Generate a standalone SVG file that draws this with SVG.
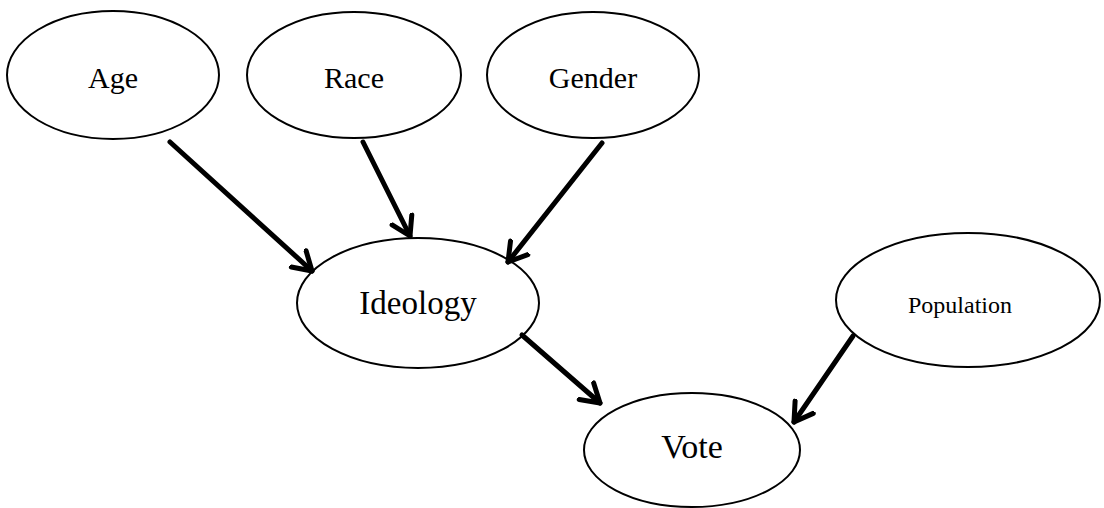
<svg xmlns="http://www.w3.org/2000/svg" width="1104" height="508" viewBox="0 0 1104 508">
<style>
.n{fill:#fff;stroke:#000;stroke-width:2}
.t{font-family:"Liberation Serif","DejaVu Serif",serif;font-size:30px;text-anchor:middle;fill:#000}
.c{stroke:#000;stroke-width:5;stroke-linecap:round;fill:none;marker-end:url(#ah)}
</style>
<defs>
<marker id="ah" markerUnits="userSpaceOnUse" markerWidth="40" markerHeight="40" refX="20" refY="20" orient="auto" viewBox="0 0 40 40">
<path d="M2,9 L20,20 L2,31" fill="none" stroke="#000" stroke-width="5" stroke-linecap="round" stroke-linejoin="round"/>
</marker>
</defs>
<g id="age"><ellipse class="n" cx="113" cy="75" rx="106" ry="64"/><text class="t" x="113" y="88">Age</text></g>
<g id="race"><ellipse class="n" cx="354" cy="75" rx="107" ry="63"/><text class="t" x="354" y="88">Race</text></g>
<g id="gender"><ellipse class="n" cx="593" cy="75" rx="106" ry="63"/><text class="t" x="593" y="88">Gender</text></g>
<g id="ideology"><ellipse class="n" cx="418" cy="303" rx="121" ry="65"/><text class="t" x="418" y="314" style="font-size:33px">Ideology</text></g>
<g id="population"><ellipse class="n" cx="968" cy="300" rx="132" ry="67"/><text class="t" x="960" y="313" style="font-size:24px">Population</text></g>
<g id="vote"><ellipse class="n" cx="692" cy="450" rx="108" ry="57"/><text class="t" x="692" y="458" style="font-size:34px">Vote</text></g>
<g id="connectors">
<line class="c" x1="170" y1="142" x2="312" y2="271"/>
<line class="c" x1="363" y1="142" x2="410" y2="236"/>
<line class="c" x1="602" y1="143" x2="508" y2="262"/>
<line class="c" x1="522" y1="335" x2="600" y2="403"/>
<line class="c" x1="853" y1="336" x2="794" y2="422"/>
</g>
</svg>
